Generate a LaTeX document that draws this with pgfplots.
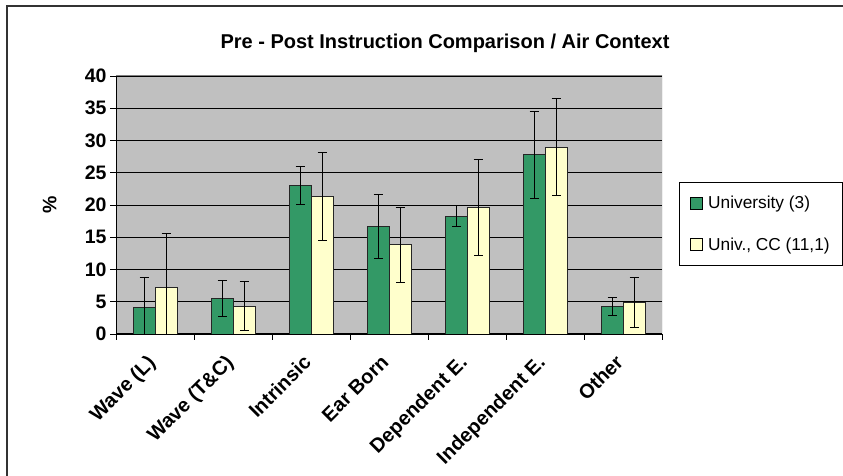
\documentclass[border=0pt]{standalone}
\usepackage{fontspec}
\setmainfont{Liberation Sans}
\usepackage{pgfplots}
\usepackage{pgfplotstable}
\pgfplotsset{compat=1.18}
\definecolor{uniGreen}{HTML}{339966}
\definecolor{ccYellow}{HTML}{FFFFCC}
\definecolor{plotGray}{HTML}{C0C0C0}

% category, University (3) mean/err, Univ. CC (11,1) mean/err
\pgfplotstableread{
idx  uni   unie  cc    cce
0    4.13  4.64  7.23  8.36
1    5.52  2.73  4.34  3.85
2    22.97 2.95  21.27 6.85
3    16.72 4.95  13.83 5.80
4    18.27 1.65  19.66 7.45
5    27.77 6.70  28.95 7.50
6    4.28  1.45  4.90  3.90
}\airdata

\begin{document}
\begin{tikzpicture}[x=1pt,y=1pt]
\path[use as bounding box] (0,0) rectangle (843,476);
\draw[line width=2pt, black!80] (7,0) -- (7,469.5) -- (843,469.5);
\node[font=\fontsize{20}{22}\selectfont\bfseries, anchor=base] at (445,427) {Pre - Post Instruction Comparison / Air Context};
\begin{axis}[
  at={(116pt,142pt)}, anchor=south west,
  scale only axis, width=546pt, height=258pt,
  ybar=0pt, bar width=22pt,
  xmin=-0.5, xmax=6.5, ymin=0, ymax=40,
  ytick={0,5,...,40},
  xtick={-0.5,0.5,...,6.5},
  x tick label as interval,
  xticklabels={Wave (L),Wave (T\&C),Intrinsic,Ear Born,Dependent E.,Independent E.,Other,},
  x tick label style={xshift=-9pt, yshift=-12pt, rotate=45, anchor=north east,
    font=\fontsize{20}{22}\selectfont\bfseries, inner sep=1pt},
  y tick label style={font=\fontsize{19.5}{22}\selectfont\bfseries},
  /pgf/number format/assume math mode=true,
  axis lines*=left, axis line style={-, black, line width=1pt},
  tick align=outside, major tick length=6pt,
  tick style={black, line width=0.8pt},
  ymajorgrids, grid style={black, line width=0.8pt},
  axis background/.style={fill=plotGray},
  ylabel={\%},
  ylabel style={font=\fontsize{19.5}{22}\selectfont\bfseries, at={(-56pt,0.5)}, anchor=south},
  legend style={at={(1.031,0.589)}, anchor=north west, draw=black, line width=0.8pt,
    font=\fontsize{17.3}{20}\selectfont, row sep=23pt, inner xsep=11pt, inner ysep=12pt,
    cells={anchor=west}},
  legend image code/.code={\draw[#1, draw=black, line width=0.8pt] (0pt,-6pt) rectangle (12pt,6pt);
    \path (15pt,0pt);},
  error bars/error bar style={black, line width=1pt},
  error bars/error mark options={black, line width=1pt, mark size=4.5pt, rotate=90},
]
\addplot[fill=uniGreen, draw=black!85, line width=0.9pt,
  error bars/.cd, y dir=both, y explicit]
  table[x=idx, y=uni, y error=unie] {\airdata};
\addplot[fill=ccYellow, draw=black!85, line width=0.9pt,
  error bars/.cd, y dir=both, y explicit]
  table[x=idx, y=cc, y error=cce] {\airdata};
\legend{University (3), {Univ., CC (11,1)}}
\draw[gray, line width=1pt] (rel axis cs:0,1) -- (rel axis cs:1,1) -- (rel axis cs:1,0);
\end{axis}
\end{tikzpicture}
\end{document}
